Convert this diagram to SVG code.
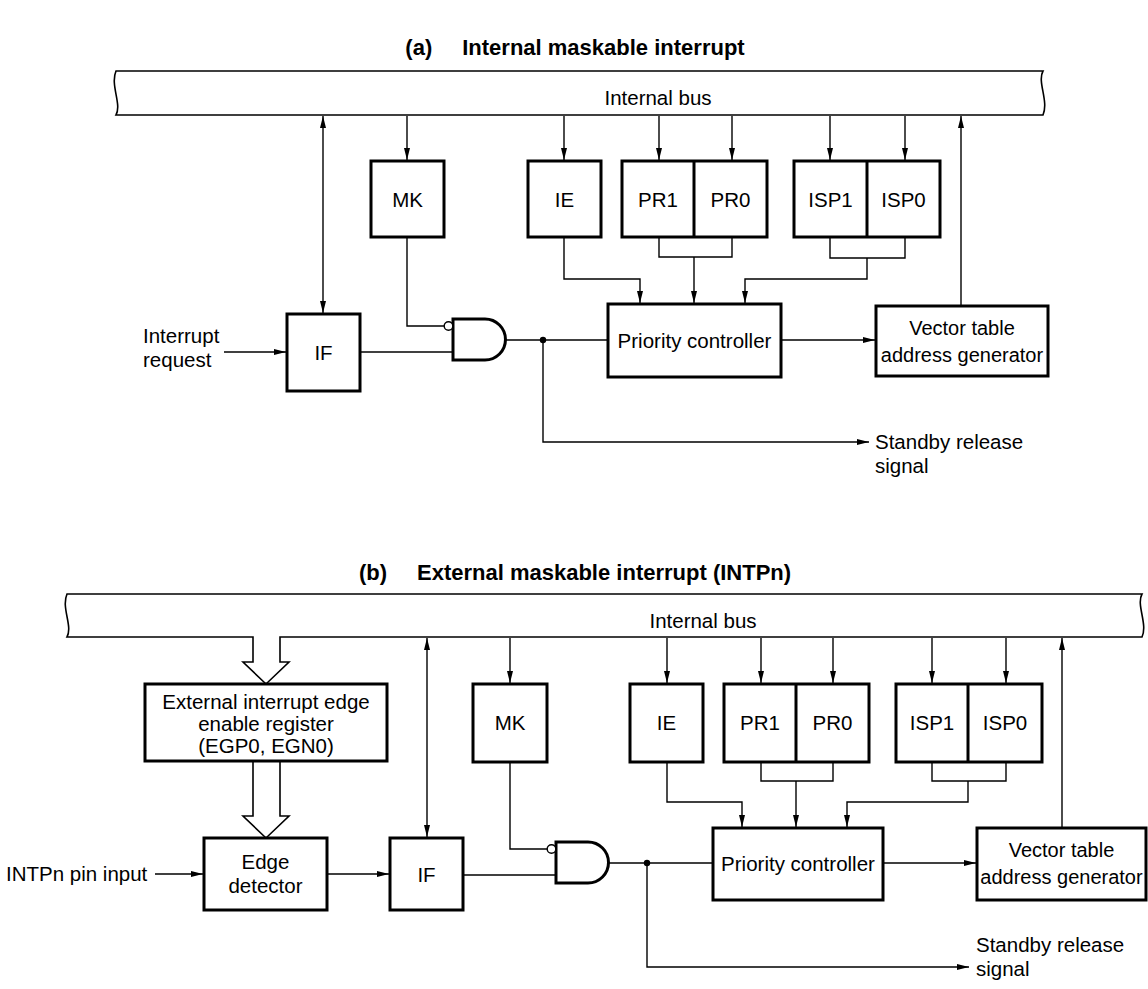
<svg xmlns="http://www.w3.org/2000/svg" width="1148" height="989" viewBox="0 0 1148 989">
<style>
text{font-family:"Liberation Sans",Arial,sans-serif;font-size:20.5px;fill:#000}
.t{font-weight:bold;font-size:22px;text-anchor:middle}
.c{text-anchor:middle}
.v{font-size:20px}
.box{fill:#fff;stroke:#000;stroke-width:3}
.bus{fill:#fff;stroke:#000;stroke-width:1.6}
.ln{fill:none;stroke:#000;stroke-width:1.4}
.ar{fill:none;stroke:#000;stroke-width:1.4;marker-end:url(#ah)}
.bi{fill:none;stroke:#000;stroke-width:1.4;marker-end:url(#ah);marker-start:url(#ah)}
.gate{fill:#fff;stroke:#000;stroke-width:3}
</style>
<defs>
<marker id="ah" markerUnits="userSpaceOnUse" markerWidth="13" markerHeight="8" refX="12" refY="4" orient="auto-start-reverse"><path d="M0,1 L12,4 L0,7 z" fill="#000"/></marker>
</defs>
<text class="t" x="575" y="55"><tspan>(a)</tspan><tspan dx="30">Internal maskable interrupt</tspan></text>
<g id="bus-a">
<path class="bus" d="M116,71 H1043 C1037,82 1049,101 1043,115 H116 C122,104 110,85 116,71 Z"/>
<text class="c" x="658" y="105">Internal bus</text>
</g>
<g id="connectors-a">
<path class="bi" d="M323,116 V313"/>
<path class="ar" d="M407,116 V160"/>
<path class="ar" d="M564,116 V160"/>
<path class="ar" d="M659,116 V160"/>
<path class="ar" d="M732,116 V160"/>
<path class="ar" d="M830,116 V160"/>
<path class="ar" d="M905,116 V160"/>
<path class="ar" d="M961,305 V116"/>
<path class="ln" d="M659,237 V257 H732 V237"/>
<path class="ar" d="M694,257 V303"/>
<path class="ln" d="M830,237 V258 H905 V237"/>
<path class="ar" d="M867,258 V279 H745 V303"/>
<path class="ar" d="M564,237 V279 H640 V303"/>
<path class="ln" d="M407,237 V326 H444"/>
<path class="ar" d="M224,352 H286"/>
<path class="ln" d="M360,352 H453"/>
<path class="ln" d="M505,340 H608"/>
<path class="ar" d="M781,340 H875"/>
<path class="ar" d="M543,340 V442 H869"/>
<circle cx="543" cy="340" r="3.2" fill="#000"/>
</g>
<g id="mk-a"><rect class="box" x="371" y="161" width="73" height="76"/><text class="c" x="407.5" y="207">MK</text></g>
<g id="ie-a"><rect class="box" x="528" y="161" width="73" height="76"/><text class="c" x="564.5" y="207">IE</text></g>
<g id="pr-a"><rect class="box" x="622" y="161" width="145" height="76"/><line class="box" x1="694" y1="161" x2="694" y2="237"/><text class="c" x="658" y="207">PR1</text><text class="c" x="730.5" y="207">PR0</text></g>
<g id="isp-a"><rect class="box" x="794" y="161" width="146" height="76"/><line class="box" x1="867" y1="161" x2="867" y2="237"/><text class="c" x="830.5" y="207">ISP1</text><text class="c" x="903.5" y="207">ISP0</text></g>
<g id="if-a"><rect class="box" x="287" y="314" width="73" height="77"/><text class="c" x="323.5" y="360">IF</text></g>
<g id="and-a"><path class="gate" d="M453,319 H485 A20.5,20.5 0 0 1 485,360 H453 Z"/><circle cx="448.5" cy="326" r="4.3" fill="#fff" stroke="#000" stroke-width="1.4"/></g>
<g id="prio-a"><rect class="box" x="608" y="304" width="173" height="73"/><text class="c" x="694.5" y="348">Priority controller</text></g>
<g id="vec-a"><rect class="box" x="876" y="306" width="172" height="70"/><text class="c v" x="962" y="335">Vector table</text><text class="c v" x="962" y="362">address generator</text></g>
<g id="labels-a">
<text x="143" y="343">Interrupt</text>
<text x="143" y="367">request</text>
<text x="875" y="449">Standby release</text>
<text x="875" y="473">signal</text>
</g>

<text class="t" x="575" y="580"><tspan>(b)</tspan><tspan dx="30">External maskable interrupt (INTPn)</tspan></text>
<g id="bus-b">
<path class="bus" d="M67,594 H1142 C1136,605 1148,624 1142,637 H280 V662 H289 L266,684 L243,662 H253 V637 H67 C73,626 61,608 67,594 Z"/>
<text class="c" x="703" y="628">Internal bus</text>
</g>
<g id="connectors-b">
<path class="bus" d="M253,762 V816 H243 L266,838 L289,816 H280 V762"/>
<path class="bi" d="M427,638 V837"/>
<path class="ar" d="M510,638 V683"/>
<path class="ar" d="M667,638 V683"/>
<path class="ar" d="M761,638 V683"/>
<path class="ar" d="M833,638 V683"/>
<path class="ar" d="M932,638 V683"/>
<path class="ar" d="M1006,638 V683"/>
<path class="ar" d="M1062,827 V638"/>
<path class="ln" d="M761,762 V781 H833 V762"/>
<path class="ar" d="M796,781 V827"/>
<path class="ln" d="M932,762 V781 H1006 V762"/>
<path class="ar" d="M968,781 V802 H847 V827"/>
<path class="ar" d="M667,762 V802 H742 V827"/>
<path class="ln" d="M510,762 V849 H547"/>
<path class="ar" d="M155,874 H203"/>
<path class="ar" d="M327,874 H389"/>
<path class="ln" d="M463,875 H556"/>
<path class="ln" d="M608,863 H713"/>
<path class="ar" d="M883,863 H976"/>
<path class="ar" d="M647,863 V967 H969"/>
<circle cx="647" cy="863" r="3.2" fill="#000"/>
</g>
<g id="egp-b"><rect class="box" x="145" y="684" width="242" height="77"/><text class="c" x="266" y="709">External interrupt edge</text><text class="c" x="266" y="731">enable register</text><text class="c" x="266" y="753">(EGP0, EGN0)</text></g>
<g id="edge-b"><rect class="box" x="204" y="838" width="123" height="72"/><text class="c" x="265.5" y="869">Edge</text><text class="c" x="265.5" y="893">detector</text></g>
<g id="if-b"><rect class="box" x="390" y="838" width="73" height="72"/><text class="c" x="426.5" y="882">IF</text></g>
<g id="mk-b"><rect class="box" x="473" y="684" width="74" height="78"/><text class="c" x="510" y="730">MK</text></g>
<g id="ie-b"><rect class="box" x="630" y="684" width="73" height="78"/><text class="c" x="666.5" y="730">IE</text></g>
<g id="pr-b"><rect class="box" x="724" y="684" width="145" height="78"/><line class="box" x1="796" y1="684" x2="796" y2="762"/><text class="c" x="760" y="730">PR1</text><text class="c" x="832.5" y="730">PR0</text></g>
<g id="isp-b"><rect class="box" x="896" y="684" width="146" height="78"/><line class="box" x1="968" y1="684" x2="968" y2="762"/><text class="c" x="932" y="730">ISP1</text><text class="c" x="1005" y="730">ISP0</text></g>
<g id="and-b"><path class="gate" d="M556,842 H588 A20.5,20.5 0 0 1 588,883 H556 Z"/><circle cx="551.5" cy="849" r="4.3" fill="#fff" stroke="#000" stroke-width="1.4"/></g>
<g id="prio-b"><rect class="box" x="713" y="828" width="170" height="72"/><text class="c" x="798" y="871">Priority controller</text></g>
<g id="vec-b"><rect class="box" x="977" y="828" width="169" height="72"/><text class="c v" x="1061.5" y="857">Vector table</text><text class="c v" x="1061.5" y="884">address generator</text></g>
<g id="labels-b">
<text x="6" y="881">INTPn pin input</text>
<text x="976" y="952">Standby release</text>
<text x="976" y="976">signal</text>
</g>
</svg>
